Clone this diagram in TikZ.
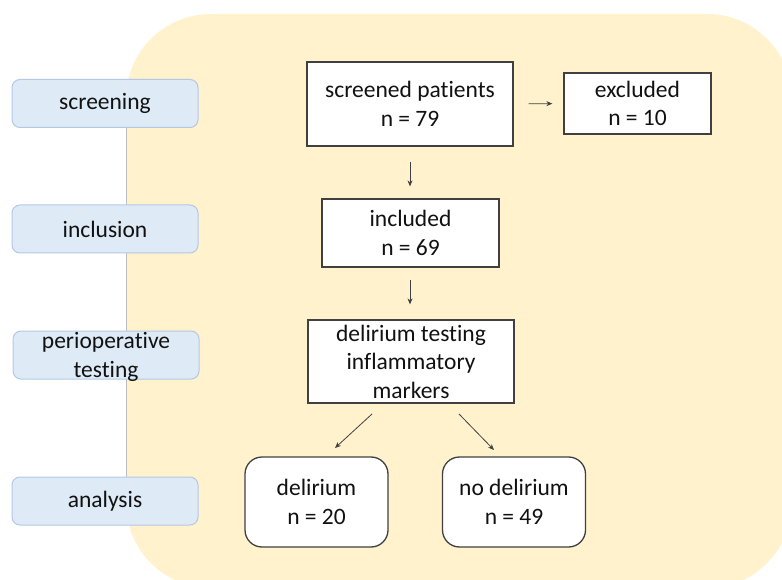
\documentclass[tikz,border=0pt]{standalone}
\usepackage{fontspec}
\setmainfont{Carlito}[Ligatures={NoCommon}]
\usetikzlibrary{arrows.meta}
\definecolor{bgyel}{HTML}{FFF2CC}
\definecolor{labfill}{HTML}{DEEBF7}
\definecolor{labdraw}{HTML}{B4C7E7}
\definecolor{boxdraw}{HTML}{404040}
\definecolor{txt}{HTML}{111111}
\tikzset{
  base/.style={font=\fontsize{23.5}{28.5}\selectfont, text=txt, align=center, inner sep=0pt},
  stage/.style={base, draw=labdraw, fill=labfill, line width=1pt, rounded corners=8pt,
    minimum width=186pt, minimum height=48pt},
  flowbox/.style={base, draw=boxdraw, fill=white, line width=1.3pt},
  endbox/.style={flowbox, rounded corners=17pt, minimum width=143pt, minimum height=90pt},
  conn/.style={draw=boxdraw, line width=0.8pt, -{Stealth[length=6pt,width=5pt]}}
}
\begin{document}
\begin{tikzpicture}[x=1pt,y=-1pt]
\useasboundingbox (0,0) rectangle (782,580);
% background panel
\fill[bgyel, rounded corners=85pt] (126,14) rectangle (792,588);
\draw[black!25, line width=0.5pt] (126,99) -- (126,503);
% stage labels
\node[stage] (lscr) at (105,103.5) {screening};
\node[stage] (linc) at (105,229) {inclusion};
\node[stage] (lper) at (106,355) {};
\node[base] (lpert) at (106,357) {perioperative\\testing};
\node[stage] (lana) at (105,501) {analysis};
% flow boxes
\node[flowbox, minimum width=206pt, minimum height=84pt] (scr) at (410,104) {screened patients\\n = 79};
\node[flowbox, minimum width=147pt, minimum height=61pt] (exc) at (637.5,103.5) {excluded\\n = 10};
\node[flowbox, minimum width=177pt, minimum height=68pt] (inc) at (410.5,233) {included\\n = 69};
\node[flowbox, minimum width=206pt, minimum height=83pt] (tst) at (411,361.5) {delirium testing\\inflammatory\\markers};
\node[endbox] (del) at (316.5,502) {delirium\\n = 20};
\node[endbox] (nodel) at (514,502) {no delirium\\n = 49};
% connectors
\draw[conn, shorten <=15pt, shorten >=11pt] (scr.east) -- (exc.west);
\draw[conn, shorten <=15pt, shorten >=12pt] (scr.south) -- (inc.north -| scr.south);
\draw[conn, shorten <=12pt, shorten >=15pt] (inc.south -| scr.south) -- (tst.north -| scr.south);
\coordinate (d1s) at (372,414);
\coordinate (d1e) at (335,448);
\coordinate (d2s) at (459,414);
\coordinate (d2e) at (494,450);
\draw[conn] (d1s) -- (d1e);
\draw[conn] (d2s) -- (d2e);
\end{tikzpicture}
\end{document}
